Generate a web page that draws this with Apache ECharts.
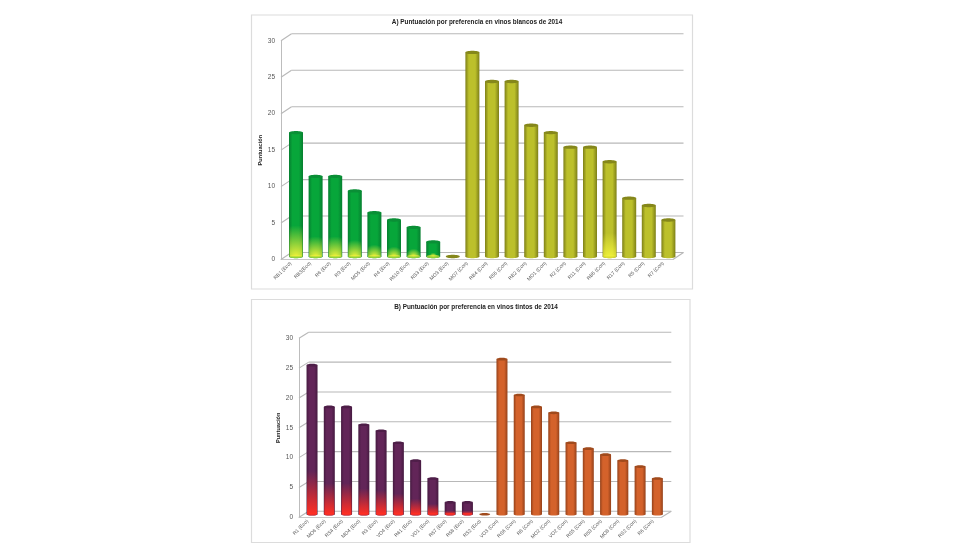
<!DOCTYPE html>
<html><head><meta charset="utf-8">
<script src="https://cdn.jsdelivr.net/npm/echarts@6/dist/echarts.min.js"></script>
<style>html,body{margin:0;padding:0;background:#fff}#c{width:980px;height:560px}</style>
</head><body><div id="c"></div>
<script>
const titleA = 'A) Puntuación por preferencia en vinos blancos de 2014';
const titleB = 'B) Puntuación por preferencia en vinos tintos de 2014';
const yName = 'Puntuación';
const categoriesA = ['RB1 (Eco)','RB3(Eco)','R6 (Eco)','R9 (Eco)','MO5 (Eco)','R4 (Eco)','R510 (Eco)','RS3 (Eco)','MO3 (Eco)','MO7 (Con)','RB4 (Con)','R55 (Con)','RB2 (Con)','MO1 (Con)','R2 (Con)','R11 (Con)','RB5 (Con)','R17 (Con)','R5 (Con)','R7 (Con)'];
const valuesA = [17,11,11,9,6,5,4,2,0,28,24,24,18,17,15,15,13,8,7,5];
const categoriesB = ['R1 (Eco)','MO6 (Eco)','RS4 (Eco)','MO4 (Eco)','R3 (Eco)','VO4 (Eco)','R61 (Eco)','VO1 (Eco)','R57 (Eco)','R58 (Eco)','RS2 (Eco)','VO3 (Con)','RS6 (Con)','R8 (Con)','MO2 (Con)','VO2 (Con)','RS5 (Con)','R59 (Con)','MO8 (Con)','RS2 (Con)','R6 (Con)'];
const valuesB = [25,18,18,15,14,12,9,6,2,2,0,26,20,18,17,12,11,10,9,8,6];
const yTicks = [0,5,10,15,20,25,30];

const green={edge:'#067f30',mid:'#07a63a',cap:'#0a8f36'};
const olive={edge:'#7d7f18',mid:'#bcc02b',cap:'#85871b'};
const purple={edge:'#451a40',mid:'#622558',cap:'#4e1e48'};
const orange={edge:'#94411a',mid:'#d4622b',cap:'#a04a1c'};

function wallSeries(idx,dx,dy){
  return {type:'custom',xAxisIndex:idx,yAxisIndex:idx,silent:true,z:1,clip:false,
    data:yTicks.map(v=>[0,v]),
    renderItem(p,api){
      const cs=p.coordSys, y=api.coord([0,api.value(1)])[1];
      const line=(x1,y1,x2,y2)=>({type:'line',shape:{x1,y1,x2,y2},style:{stroke:'#b8b8b8',lineWidth:1.1}});
      const kids=[line(cs.x,y,cs.x+dx,y-dy),line(cs.x+dx,y-dy,cs.x+cs.width+dx,y-dy)];
      if(api.value(1)===0) kids.push(line(cs.x+cs.width,y,cs.x+cs.width+dx,y-dy));
      return {type:'group',children:kids};
    }};
}
function barSeries(idx,values,splitAt,pal1,pal2,glowCol,bw,ox,oy,dome,extraGlow){
  return {type:'custom',xAxisIndex:idx,yAxisIndex:idx,silent:true,z:3,clip:false,
    data:values.map((v,i)=>[i,v]),
    renderItem(p,api){
      const i=api.value(0),v=api.value(1);
      const top=api.coord([i,v]),base=api.coord([i,0]);
      const cx=top[0]+ox,yT=top[1]-oy,yB=base[1]-oy,hw=bw/2,ry=bw*0.12;
      const pal=i<splitAt?pal1:pal2;
      const h=yB-yT;
      const body=new echarts.graphic.LinearGradient(0,0,1,0,[
        {offset:0,color:pal.edge},{offset:.25,color:pal.mid},{offset:.7,color:pal.mid},{offset:1,color:pal.edge}]);
      const kids=[];
      if(h>0){
        kids.push({type:'rect',shape:{x:cx-hw,y:yT,width:bw,height:h},style:{fill:body}});
      }
      kids.push({type:'ellipse',shape:{cx,cy:yB,rx:hw,ry},style:{fill:h>0?body:pal.cap}});
      const g=(i<splitAt&&h>0)||i===extraGlow;
      if(g){
        const gh=Math.max(h*(dome?0.27:0.29),3);
        const y0=yB-gh;
        const c=echarts.color.modifyAlpha(glowCol,0);
        const fill=dome
          ? new echarts.graphic.RadialGradient(.5,1,gh/bw<1?1:gh/bw,[{offset:0,color:glowCol},{offset:.45,color:echarts.color.modifyAlpha(glowCol,.55)},{offset:1,color:c}])
          : new echarts.graphic.LinearGradient(0,1,0,0,[{offset:0,color:glowCol},{offset:.3,color:echarts.color.modifyAlpha(glowCol,.72)},{offset:.7,color:echarts.color.modifyAlpha(glowCol,.3)},{offset:1,color:c}]);
        kids.push({type:'rect',shape:{x:cx-hw+.5,y:y0,width:bw-1,height:gh},style:{fill}});
        kids.push({type:'ellipse',shape:{cx,cy:yB,rx:hw-.5,ry},style:{fill:glowCol,opacity:dome?.6:.85}});
      }
      if(h>0) kids.push({type:'ellipse',shape:{cx,cy:yT,rx:hw,ry},style:{fill:pal.cap}});
      return {type:'group',children:kids};
    }};
}
function grid(l,t,w,h){return {left:l,top:t,width:w,height:h,containLabel:false};}
function xAxis(gi,cats){return {type:'category',gridIndex:gi,data:cats,
  axisLine:{show:true,lineStyle:{color:'#c8c8c8',width:1}},axisTick:{show:false},splitLine:{show:false},
  axisLabel:{interval:0,rotate:45,fontSize:5,color:'#555',margin:3,fontFamily:'Liberation Sans'}};}
function yAxis(gi,gap){return {type:'value',gridIndex:gi,min:0,max:30,interval:5,name:yName,nameLocation:'middle',nameGap:gap,nameRotate:90,
  nameTextStyle:{fontSize:5.6,fontWeight:'bold',color:'#222',fontFamily:'Liberation Sans'},
  axisLine:{show:true,lineStyle:{color:'#bdbdbd',width:1}},axisTick:{show:false},splitLine:{show:false},
  axisLabel:{fontSize:6.5,color:'#555',margin:6,fontFamily:'Liberation Sans'}};}
const titleStyle={fontSize:6.4,fontWeight:'bold',color:'#222',fontFamily:'Liberation Sans'};
const frame=(x,y,width,height)=>({type:'rect',z:-1,shape:{x,y,width,height},style:{fill:'#fff',stroke:'#dcdcdc',lineWidth:1.2}});

const chart=echarts.init(document.getElementById('c'),null,{renderer:'canvas'});
chart.setOption({
  animation:false,backgroundColor:'#fff',
  title:[
    {text:titleA,left:472,top:14.5,textAlign:'center',textStyle:titleStyle},
    {text:titleB,left:471,top:299.5,textAlign:'center',textStyle:titleStyle}],
  grid:[grid(281,40.8,392,218.7),grid(299,338.3,362.6,179)],
  xAxis:[xAxis(0,categoriesA),xAxis(1,categoriesB)],
  yAxis:[yAxis(0,13),yAxis(1,12)],
  graphic:[frame(251.5,15,441,274),frame(251.5,299.5,438.5,243)],
  series:[
    wallSeries(0,10.5,7),wallSeries(1,9.7,6),
    barSeries(0,valuesA,8,green,olive,'#eef03a',14,5.2,3,true,16),
    barSeries(1,valuesB,10,purple,orange,'#ff2f24',11,4.4,3,false,-1)
  ]
});
</script></body></html>
